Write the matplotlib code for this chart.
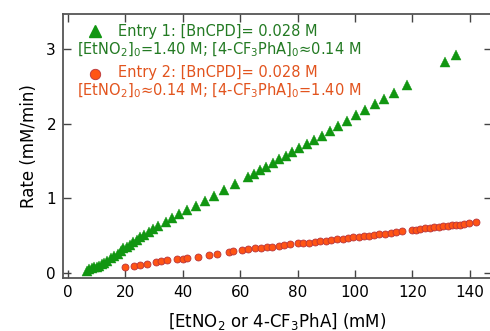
import matplotlib
matplotlib.use("Agg")
import matplotlib.pyplot as plt

# Entry 1: [EtNO2]0 = 1.40 M, [4-CF3PhA]0 = 0.14 M (green triangles)
entry1_x = [6.5, 7.4, 8.3, 9.1, 10.0, 10.9, 11.7, 12.7, 13.7, 14.9, 16.1, 17.3, 18.4,
            19.3, 20.4, 21.6, 22.8, 23.9, 25.1, 26.5, 28.2, 29.7, 31.5, 34.0, 36.3,
            38.8, 41.6, 44.5, 47.6, 50.9, 54.4, 58.3, 62.8, 64.8, 66.9, 69.0, 71.3,
            73.5, 75.8, 78.2, 80.6, 83.2, 85.7, 88.4, 91.2, 94.1, 97.1, 100.2, 103.4,
            106.8, 110.2, 113.7, 118.2, 131.4, 135.3]
entry1_rate = [0.03, 0.06, 0.07, 0.08, 0.085, 0.10, 0.12, 0.14, 0.165, 0.20, 0.23, 0.26,
               0.30, 0.33, 0.35, 0.38, 0.415, 0.44, 0.48, 0.51, 0.55, 0.585, 0.63, 0.68,
               0.73, 0.79, 0.84, 0.90, 0.965, 1.035, 1.11, 1.19, 1.29, 1.33, 1.38, 1.42,
               1.47, 1.52, 1.57, 1.62, 1.67, 1.73, 1.78, 1.84, 1.90, 1.97, 2.03, 2.11,
               2.18, 2.26, 2.33, 2.41, 2.51, 2.82, 2.92]

# Entry 2: [EtNO2]0 = 0.14 M, [4-CF3PhA]0 = 1.40 M (orange circles)
entry2_x = [19.9, 23.1, 25.1, 27.6, 30.7, 32.3, 34.6, 38.1, 40.0, 41.4, 45.2, 49.2, 51.8,
            56.2, 57.6, 60.5, 62.8, 65.2, 67.1, 69.2, 71.2, 73.5, 75.4, 77.4, 80.0, 82.0,
            84.0, 86.1, 87.8, 89.9, 91.5, 93.6, 95.9, 97.7, 99.4, 101.4, 103.1, 105.0,
            106.7, 108.5, 110.5, 112.4, 114.3, 116.5, 119.8, 121.3, 122.6, 124.4, 126.1,
            127.6, 129.3, 130.8, 132.2, 133.7, 135.2, 136.6, 138.1, 139.8, 142.2]
entry2_rate = [0.076, 0.098, 0.111, 0.125, 0.147, 0.165, 0.174, 0.183, 0.192, 0.205, 0.218,
               0.241, 0.254, 0.281, 0.295, 0.308, 0.317, 0.33, 0.339, 0.344, 0.353, 0.361,
               0.37, 0.384, 0.397, 0.402, 0.406, 0.415, 0.424, 0.433, 0.437, 0.451, 0.46,
               0.469, 0.482, 0.486, 0.495, 0.5, 0.509, 0.518, 0.526, 0.535, 0.545, 0.562,
               0.576, 0.58, 0.589, 0.598, 0.602, 0.612, 0.62, 0.625, 0.629, 0.639, 0.643,
               0.647, 0.656, 0.665, 0.683]

x_ticks = [0, 20, 40, 60, 80, 100, 120, 140]
y_ticks = [0, 1, 2, 3]

green = "#119611"
green_txt = "#237a23"
orange = "#ff5414"
orange_edge = "#b8343a"
orange_txt = "#e2541e"

W, H = 490, 331
fig = plt.figure(figsize=(W / 100, H / 100), dpi=100)
# axes frame: x 63..492 px (right spine just off the picture), y 14..278 px
ax_w = 429
ax = fig.add_axes([63 / W, 1 - 278 / H, ax_w / W, 264 / H])

ax.plot(entry2_x, entry2_rate, "o", ms=5, mfc=orange, mec=orange_edge, mew=0.6, zorder=3)
ax.plot(entry1_x, entry1_rate, "^", ms=6.5, mfc=green, mec=green, mew=0.3, zorder=4)

ax.set_xlim(-1.74, 147.7)
ax.set_ylim(-0.067, 3.467)
ax.set_xticks(x_ticks)
ax.set_yticks(y_ticks)
ax.tick_params(direction="in", length=5.5, width=1.0, color="#444444",
               top=True, right=True, labelsize=11, pad=5)
for s in ax.spines.values():
    s.set_color("#555555")
    s.set_linewidth(1.3)

ax.set_xlabel("[EtNO$_2$ or 4-CF$_3$PhA] (mM)", fontsize=12, labelpad=8)
ax.set_ylabel("Rate (mM/min)", fontsize=12, labelpad=6)

# key
def fx(px):
    return px / W

def fy(py):
    return 1 - py / H

ax.plot([(95 - 63) / ax_w], [(278 - 30.5) / 264], "^", ms=9, mfc=green, mec=green,
        transform=ax.transAxes, clip_on=False)
ax.plot([(95 - 63) / ax_w], [(278 - 73.5) / 264], "o", ms=7.5, mfc=orange, mec=orange_edge,
        mew=0.6, transform=ax.transAxes, clip_on=False)
fig.text(fx(118), fy(31.5), "Entry 1: [BnCPD]= 0.028 M", color=green_txt,
         fontsize=10.5, va="center")
fig.text(fx(77), fy(50), "[EtNO$_2$]$_0$=1.40 M; [4-CF$_3$PhA]$_0$\u22480.14 M",
         color=green_txt, fontsize=10.5, va="center")
fig.text(fx(118), fy(72.5), "Entry 2: [BnCPD]= 0.028 M", color=orange_txt,
         fontsize=10.5, va="center")
fig.text(fx(77), fy(91), "[EtNO$_2$]$_0$\u22480.14 M; [4-CF$_3$PhA]$_0$=1.40 M",
         color=orange_txt, fontsize=10.5, va="center")

fig.savefig("out.png", dpi=100)
